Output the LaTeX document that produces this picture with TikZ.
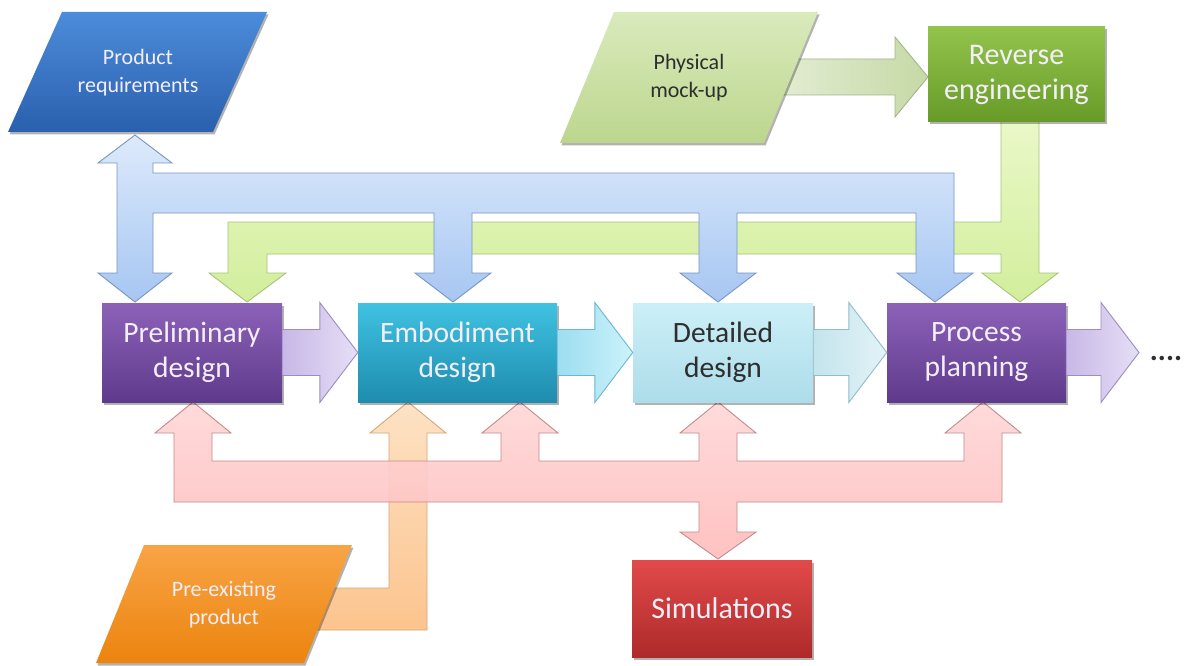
\documentclass[tikz,border=0pt]{standalone}
\usepackage{fontspec}
\setmainfont{Carlito}
\usetikzlibrary{shadows,calc}
% box colours
\definecolor{purpT}{HTML}{8C62B8}
\definecolor{purpB}{HTML}{5E3A8C}
\definecolor{cyanT}{HTML}{40C2E2}
\definecolor{cyanB}{HTML}{1E8CAE}
\definecolor{ltcT}{HTML}{CCEFF7}
\definecolor{ltcB}{HTML}{ADDDEA}
\definecolor{greenT}{HTML}{92C44C}
\definecolor{greenB}{HTML}{689A28}
\definecolor{redT}{HTML}{E24A4A}
\definecolor{redB}{HTML}{AE2A2A}
\definecolor{blueT}{HTML}{4C8CDA}
\definecolor{blueB}{HTML}{2A60AE}
\definecolor{physT}{HTML}{DAEABC}
\definecolor{physB}{HTML}{BCD68E}
\definecolor{orT}{HTML}{F8A446}
\definecolor{orB}{HTML}{EC840E}
% arrow colours
\definecolor{bluaT}{HTML}{DDEAFB}
\definecolor{bluaB}{HTML}{A6C6F2}
\definecolor{bluaD}{HTML}{7896C2}
\definecolor{graT}{HTML}{EAF8C8}
\definecolor{graB}{HTML}{D2EE9C}
\definecolor{graD}{HTML}{A6C47A}
\definecolor{pinkT}{HTML}{FFD8D8}
\definecolor{pinkB}{HTML}{FFBDBD}
\definecolor{pinkD}{HTML}{C68A8A}
\definecolor{oraT}{HTML}{FDE2C4}
\definecolor{oraB}{HTML}{FCC48E}
\definecolor{oraD}{HTML}{D6A676}
\definecolor{phaL}{HTML}{E6EFD8}
\definecolor{phaR}{HTML}{C6D9A6}
\definecolor{phaD}{HTML}{A2B688}
\definecolor{pfT}{HTML}{E6DEF6}
\definecolor{pfB}{HTML}{C8B8E6}
\definecolor{pfD}{HTML}{9C8CC2}
\definecolor{cfT}{HTML}{CCF2FB}
\definecolor{cfB}{HTML}{9CDEF0}
\definecolor{cfD}{HTML}{6CB6CE}
\definecolor{lfT}{HTML}{E2F3F7}
\definecolor{lfB}{HTML}{C4E4EC}
\definecolor{lfD}{HTML}{92BCC8}
\definecolor{lighttext}{HTML}{F4EEF8}
\definecolor{darktext}{HTML}{2E2E2E}
\newcommand\flowarr[3]{%
  \path[#3] let \p1=(#1.east), \p2=(#2) in
    (\x1,\y1+23) -- (\x2-38,\y1+23) -- (\x2-38,\y1+50) -- (\x2,\y1)
    -- (\x2-38,\y1-50) -- (\x2-38,\y1-23) -- (\x1,\y1-23) -- cycle;}
\begin{document}
\begin{tikzpicture}[x=1pt,y=-1pt,
  shad/.style={drop shadow={shadow xshift=1.5pt,shadow yshift=-2.5pt,opacity=0.3,fill=black}},
  box/.style={rectangle,inner sep=0pt,align=center,shad,
    font=\fontsize{29.5}{35}\selectfont},
  ptext/.style={inner sep=0pt,align=center,font=\fontsize{22}{28}\selectfont},
  purpbox/.style={box,top color=purpT,bottom color=purpB,text=lighttext},
  bluenet/.style={top color=bluaT,bottom color=bluaB,draw=bluaD,line width=0.9pt,line join=miter},
  greennet/.style={top color=graT,bottom color=graB,draw=graD,line width=0.9pt},
  pinknet/.style={top color=pinkT,bottom color=pinkB,draw=pinkD,line width=0.9pt},
  orangenet/.style={top color=oraT,bottom color=oraB,draw=oraD,line width=0.9pt},
  physarrow/.style={left color=phaL,right color=phaR,draw=phaD,line width=0.9pt},
  pflow/.style={left color=pfB,right color=pfT,draw=pfD,line width=0.9pt},
  cflow/.style={left color=cfB,right color=cfT,draw=cfD,line width=0.9pt},
  lflow/.style={left color=lfB,right color=lfT,draw=lfD,line width=0.9pt}]
\useasboundingbox[fill=white] (0,0) rectangle (1186,666);

% ---- main boxes (defined first for anchors; drawn on background layer order below) ----
% physical mock-up arrow
\path[physarrow] (760,59) -- (895,59) -- (895,37) -- (928,77) -- (895,117) -- (895,95) -- (760,95) -- cycle;
% parallelograms
\path[shad,top color=physT,bottom color=physB] (614,12) -- (818,12) -- (764,143) -- (560,143) -- cycle;
\node[ptext,text=darktext] (phys) at (689,77.5) {Physical\\mock-up};

% green network
\path[greennet] (1001,121) -- (1039,121) -- (1039,273) -- (1058,273) -- (1020,302) -- (982,273)
  -- (1001,273) -- (1001,254) -- (267,254) -- (267,273) -- (286,273) -- (247,302) -- (209,273)
  -- (228,273) -- (228,222) -- (1001,222) -- cycle;

% blue network
\path[bluenet] (135,135) -- (172,163) -- (153,163) -- (153,173) -- (954,173) -- (954,273)
  -- (973,273) -- (935,302) -- (897,273) -- (916,273) -- (916,213) -- (737,213) -- (737,273)
  -- (756,273) -- (718,302) -- (680,273) -- (699,273) -- (699,213) -- (472,213) -- (472,273)
  -- (491,273) -- (453,302) -- (415,273) -- (434,273) -- (434,213) -- (153,213) -- (153,273)
  -- (172,273) -- (135,302) -- (98,273) -- (117,273) -- (117,163) -- (98,163) -- cycle;

% orange connector
\path[orangenet] (408,402) -- (446,433) -- (427,433) -- (427,630) -- (290,630) -- (290,588)
  -- (389,588) -- (389,433) -- (370,433) -- cycle;

% pink network
\path[pinknet,fill opacity=0.92] (174,502) -- (174,433) -- (155,433) -- (193,402) -- (231,433) -- (212,433)
  -- (212,461) -- (501,461) -- (501,433) -- (482,433) -- (520,402) -- (558,433) -- (539,433)
  -- (539,461) -- (699,461) -- (699,433) -- (680,433) -- (718,402) -- (756,433) -- (737,433)
  -- (737,461) -- (964,461) -- (964,433) -- (945,433) -- (983,402) -- (1021,433) -- (1002,433)
  -- (1002,502) -- (737,502) -- (737,532) -- (756,532) -- (718,559) -- (680,532) -- (699,532)
  -- (699,502) -- cycle;

% main row boxes
\node[purpbox,minimum width=180pt,minimum height=99pt] (prelim) at (192,352.5) {Preliminary\\design};
\node[box,top color=cyanT,bottom color=cyanB,text=lighttext,minimum width=199pt,minimum height=99pt] (embod) at (457.5,352.5) {Embodiment\\design};
\node[box,top color=ltcT,bottom color=ltcB,text=darktext,minimum width=180pt,minimum height=99pt] (detail) at (723,352.5) {Detailed\\design};
\node[purpbox,minimum width=179pt,minimum height=99pt] (process) at (976.5,352.5) {Process\\planning};
\coordinate (endtip) at (1139,352.5);
\node[anchor=base,inner sep=0pt,font=\fontsize{30}{30}\selectfont\bfseries,text=darktext] (more) at (1166,360) {....};

% flow arrows
\flowarr{prelim}{embod.west}{pflow}
\flowarr{embod}{detail.west}{cflow}
\flowarr{detail}{process.west}{lflow}
\flowarr{process}{endtip}{pflow}

% other boxes
\node[box,top color=greenT,bottom color=greenB,text=lighttext,minimum width=177pt,minimum height=95pt,font=\fontsize{30}{35}\selectfont] (reverse) at (1016.5,74.5) {Reverse\\engineering};
\node[box,top color=redT,bottom color=redB,text=lighttext,minimum width=180pt,minimum height=97pt,font=\fontsize{30}{35}\selectfont] (sim) at (722,608.5) {Simulations};

\path[shad,top color=blueT,bottom color=blueB] (62,12) -- (267,12) -- (213,132) -- (8,132) -- cycle;
\node[ptext,text=lighttext] (prodreq) at (138,73) {Product\\requirements};

\path[shad,top color=orT,bottom color=orB] (144,545) -- (352,545) -- (304,663) -- (96,663) -- cycle;
\node[ptext,text=lighttext] (preex) at (224,605) {Pre-existing\\product};
\end{tikzpicture}
\end{document}
